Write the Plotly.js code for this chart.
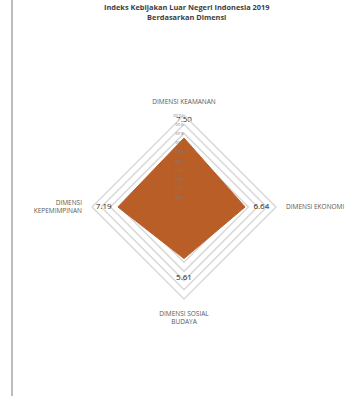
<!DOCTYPE html>
<html><head><meta charset="utf-8">
<script src="https://cdn.plot.ly/plotly-3.0.1.min.js"></script>
<style>html,body{margin:0;padding:0;background:#fff;}</style>
</head><body><div id="chart" style="width:353px;height:396px;"></div>
<script>
const dimensions = ["DIMENSI KEAMANAN", "DIMENSI EKONOMI", "DIMENSI SOSIAL<br>BUDAYA", "DIMENSI<br>KEPEMIMPINAN"];
const scores = [7.50, 6.64, 5.61, 7.19];
const labelPositions = ["top center", "middle right", "bottom center", "middle left"];
const radialTicks = [1,2,3,4,5,6,7,8,9,10];
const titleText = "<b>Indeks Kebijakan Luar Negeri Indonesia 2019<br>Berdasarkan Dimensi</b>";

const NB = "\u00a0";
const num = v => "<span style='font-size:8px'>" + v + "</span>";
const pad = [
  v => num(v) + "<br>" + NB,
  v => NB.repeat(4) + num(v),
  v => NB + "<br>" + num(v),
  v => num(v) + NB.repeat(3)
];
const spacerSizes = [10.5, 8, 10.5, 8];

const trace = {
  type: "scatterpolar",
  r: scores.concat([scores[0]]),
  theta: dimensions.concat([dimensions[0]]),
  fill: "toself",
  fillcolor: "rgb(185,94,38)",
  line: {color: "rgb(185,94,38)", width: 1},
  mode: "lines",
  hoverinfo: "skip",
  showlegend: false
};
const labels = {
  type: "scatterpolar",
  r: scores,
  theta: dimensions,
  mode: "text",
  text: scores.map((v, i) => pad[i](v.toFixed(2))),
  textposition: labelPositions,
  textfont: {family: "Open Sans, sans-serif", size: spacerSizes, color: "#222"},
  showlegend: false
};

const layout = {
  width: 353, height: 396,
  margin: {l: 0, r: 0, t: 0, b: 0},
  paper_bgcolor: "#fff",
  showlegend: false,
  annotations: [{
    text: titleText, xref: "paper", yref: "paper", x: 0.53, y: 1,
    xanchor: "center", yanchor: "top", yshift: 0, showarrow: false,
    font: {family: "Open Sans, sans-serif", size: 7.4, color: "#404040"}
  }],
  polar: {
    domain: {x: [0.2606, 0.7819], y: [0.245, 0.7096]},
    gridshape: "linear",
    bgcolor: "rgba(0,0,0,0)",
    radialaxis: {
      range: [0, 10], tickvals: radialTicks, tickformat: ".2f",
      angle: 90, tickangle: -90, side: "counterclockwise",
      showline: false, ticks: "",
      gridcolor: "#d9d9d9", gridwidth: 1.5,
      tickfont: {family: "Open Sans, sans-serif", size: 4, color: "#7f7f7f"}
    },
    angularaxis: {
      categoryarray: dimensions, type: "category",
      rotation: 90, direction: "clockwise",
      showgrid: false, showline: true, linecolor: "#d9d9d9", linewidth: 1.5,
      ticks: "outside", ticklen: 8, tickcolor: "rgba(0,0,0,0)",
      tickfont: {family: "Open Sans, sans-serif", size: 6.5, color: "#595959"}
    }
  },
  shapes: [{type: "line", xref: "paper", yref: "paper", x0: 0.034, x1: 0.034, y0: 0, y1: 1,
    line: {color: "#a6a6a6", width: 1.5}}]
};
Plotly.newPlot("chart", [trace, labels], layout, {displayModeBar: false, staticPlot: true});
</script></body></html>
